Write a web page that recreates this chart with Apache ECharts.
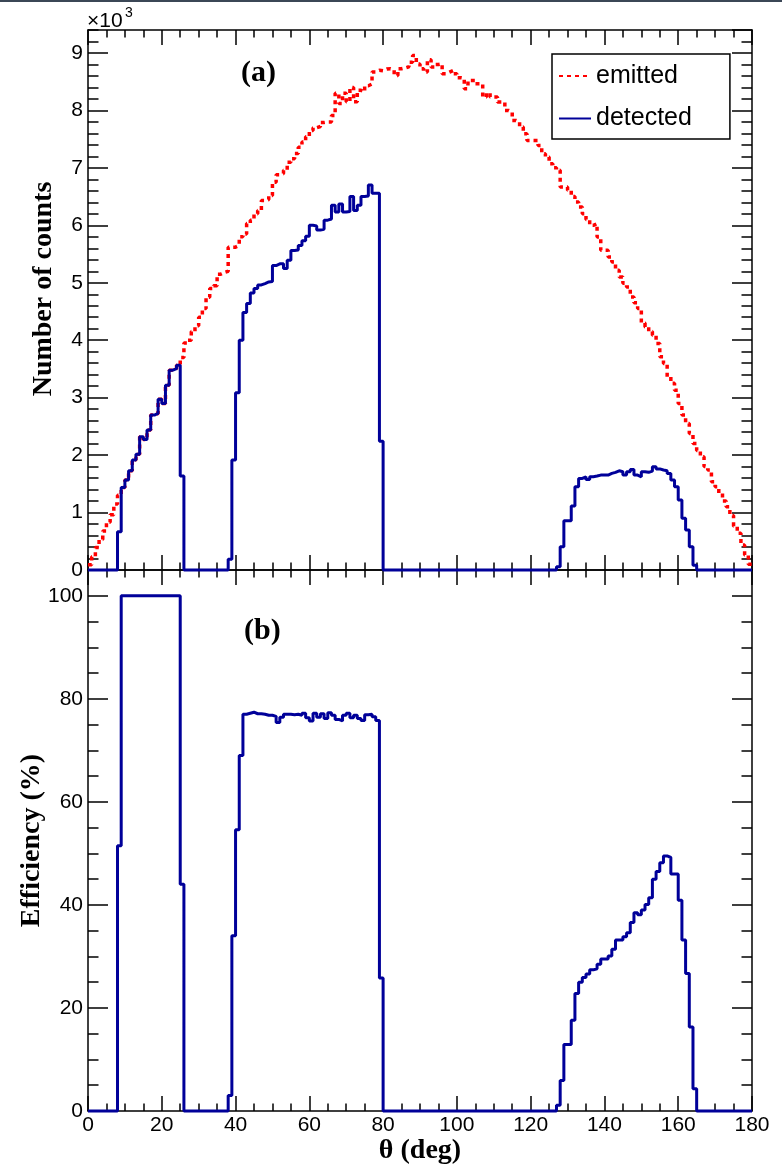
<!DOCTYPE html>
<html><head><meta charset="utf-8">
<script src="https://cdn.jsdelivr.net/npm/echarts@6/dist/echarts.min.js"></script>
<style>html,body{margin:0;padding:0;background:#fff}#c{width:782px;height:1169px}</style>
</head><body><div id="c"></div>
<script>
// 1-degree bins, 0..180 deg
const binWidth = 1;
const nBins = 180;

const emitted = [
90,230,390,530,680,830,960,1150,1300,1438,
1565,1727,1913,2017,2319,2272,2435,2696,2725,2974,
2899,3217,3478,3507,3565,3700,3950,4000,4150,4250,
4400,4550,4750,4900,4950,5150,5180,5200,5620,5620,
5650,5800,5850,6030,6090,6200,6260,6430,6450,6520,
6750,6880,6900,6960,7100,7160,7250,7360,7450,7540,
7650,7700,7720,7790,7800,7800,7910,8300,8120,8300,
8150,8400,8150,8350,8320,8430,8460,8670,8700,8690,
8720,8725,8700,8610,8725,8740,8760,8840,8957,8810,
8725,8667,8884,8754,8800,8812,8638,8667,8696,8640,
8570,8560,8377,8522,8522,8464,8464,8232,8300,8232,
8232,8145,8145,8000,7971,7826,7800,7710,7594,7478,
7478,7478,7391,7246,7188,7072,7000,6957,6667,6667,
6609,6500,6406,6319,6203,6100,6000,6029,5797,5565,
5565,5450,5362,5217,5101,4990,4927,4754,4650,4551,
4300,4232,4150,4087,3942,3710,3594,3362,3250,3130,
2899,2700,2551,2377,2203,2080,1971,1800,1739,1536,
1450,1333,1200,1101,950,760,638,435,260,100];

const detected = [
0,0,0,0,0,0,0,0,666,1438,
1565,1727,1913,2017,2319,2272,2435,2696,2725,2974,
2899,3217,3478,3507,3565,1635,0,0,0,0,
0,0,0,0,0,0,0,0,186,1913,
3084,4000,4481,4638,4823,4900,4962,4986,5014,5020,
5300,5330,5330,5250,5390,5560,5570,5650,5730,5810,
6000,5990,5920,5930,6090,6110,6350,6230,6370,6230,
6240,6500,6260,6350,6500,6510,6700,6560,6560,2240,
0,0,0,0,0,0,0,0,0,0,
0,0,0,0,0,0,0,0,0,0,
0,0,0,0,0,0,0,0,0,0,
0,0,0,0,0,0,0,0,0,0,
0,0,0,0,0,0,0,58,406,858,
858,1113,1449,1594,1623,1577,1623,1635,1652,1652,
1652,1681,1700,1727,1710,1652,1710,1751,1652,1623,
1710,1700,1720,1797,1760,1740,1727,1681,1565,1449,
1217,899,696,406,81,0,0,0,0,0,
0,0,0,0,0,0,0,0,0,0];

const efficiency = [
0,0,0,0,0,0,0,0,51.5,100,
100,100,100,100,100,100,100,100,100,100,
100,100,100,100,100,44,0,0,0,0,
0,0,0,0,0,0,0,0,3,34,
54.6,69,77.0,77.2,77.4,77.1,77.1,77.0,76.8,76.8,
76.6,75.4,76.4,77.0,77.0,76.9,77.0,76.8,77.2,76.3,
75.7,77.2,76.4,77.1,76.2,77.3,76.8,76.0,75.7,76.8,
77.2,76.3,76.8,76.2,75.8,76.9,77.0,76.5,75.8,25.8,
0,0,0,0,0,0,0,0,0,0,
0,0,0,0,0,0,0,0,0,0,
0,0,0,0,0,0,0,0,0,0,
0,0,0,0,0,0,0,0,0,0,
0,0,0,0,0,0,0,1.1,5.9,12.9,
12.9,17.6,22.8,25.0,25.9,26.6,27.4,27.6,28.5,29.5,
29.5,30.1,31.4,33.2,33.2,33.8,34.6,36.6,38.5,38.1,
39.0,40.1,41.4,45.0,46.5,48.2,49.5,49.2,46.0,46.0,
40.9,33.2,26.7,16.3,4.3,0,0,0,0,0,
0,0,0,0,0,0,0,0,0,0];

const seriesNames = ['emitted', 'detected'];
const xTitle = 'θ (deg)';
const yTitleTop = 'Number of counts';
const yTitleBottom = 'Efficiency (%)';

function histPoints(vals) {
  const pts = vals.map((v, i) => [i * binWidth, v]);
  pts.push([nBins * binWidth, vals[vals.length - 1]]);
  return pts;
}

const BLACK = '#000';
const BLUE = '#000099';
const RED = '#ff0000';
const sans = 'Liberation Sans, Arial, Helvetica, sans-serif';
const serif = 'Liberation Serif, Times New Roman, serif';
const tickLS = {color: BLACK, width: 1.5};
const LABEL_SIZE = 21;

function xAx(grid, pos, showLabels, extra) {
  return Object.assign({
    type: 'value', gridIndex: grid, position: pos, min: 0, max: 180, interval: 20,
    axisLine: {show: true, onZero: false, lineStyle: {color: BLACK, width: 1.5}},
    axisTick: {show: true, inside: true, length: 15, lineStyle: tickLS},
    minorTick: {show: true, splitNumber: 4, length: 7.5, lineStyle: tickLS},
    axisLabel: {show: showLabels, margin: 4, fontFamily: sans, fontSize: LABEL_SIZE, color: BLACK},
    splitLine: {show: false}, minorSplitLine: {show: false}
  }, extra || {});
}
function yAx(grid, pos, max, interval, major, labelFn, extra) {
  return Object.assign({
    type: 'value', gridIndex: grid, position: pos, min: 0, max: max, interval: interval,
    axisLine: {show: major, onZero: false, lineStyle: {color: BLACK, width: 1.5}},
    axisTick: {show: true, inside: true, length: major ? 20 : 10.5, lineStyle: tickLS},
    axisLabel: labelFn ? {show: true, margin: 5, fontFamily: sans, fontSize: LABEL_SIZE, color: BLACK,
      formatter: labelFn, showMaxLabel: false} : {show: false},
    splitLine: {show: false}
  }, extra || {});
}

const option = {
  animation: false,
  backgroundColor: '#fff',
  grid: [
    {left: 88, width: 664, top: 30, height: 540},
    {left: 88, width: 664, top: 570, height: 541}
  ],
  xAxis: [
    xAx(0, 'bottom', false),
    xAx(0, 'top', false),
    xAx(1, 'bottom', true, {
      name: xTitle, nameLocation: 'middle', nameGap: 26, nameMoveOverlap: false,
      nameTextStyle: {fontFamily: serif, fontWeight: 'bold', fontSize: 28, color: BLACK}
    }),
    xAx(1, 'top', false)
  ],
  yAxis: [
    yAx(0, 'left', 9400, 1000, true, v => (v % 1000 === 0 ? String(v / 1000) : ''), {
      name: yTitleTop, nameLocation: 'middle', nameGap: 30, nameMoveOverlap: false,
      nameTextStyle: {fontFamily: serif, fontWeight: 'bold', fontSize: 28, color: BLACK, padding: [0, 0, 0, 22]}
    }),
    yAx(0, 'left', 9400, 200, false, null),
    yAx(0, 'right', 9400, 1000, true, null),
    yAx(0, 'right', 9400, 200, false, null),
    yAx(1, 'left', 105, 20, true, v => (v % 20 === 0 ? String(v) : ''), {
      name: yTitleBottom, nameLocation: 'middle', nameGap: 42, nameMoveOverlap: false,
      nameTextStyle: {fontFamily: serif, fontWeight: 'bold', fontSize: 28, color: BLACK}
    }),
    yAx(1, 'left', 105, 5, false, null),
    yAx(1, 'right', 105, 20, true, null),
    yAx(1, 'right', 105, 5, false, null)
  ],
  legend: {
    data: seriesNames, orient: 'vertical', left: 552, top: 54,
    padding: [9.5, 38, 8, 6], itemGap: 17.5, itemWidth: 32, itemHeight: 14,
    borderColor: BLACK, borderWidth: 1.5, borderRadius: 0, backgroundColor: '#fff',
    selectedMode: false,
    itemStyle: {opacity: 0},
    textStyle: {fontFamily: sans, fontSize: 25, color: BLACK, lineHeight: 24}
  },
  graphic: [
    {type: 'rect', shape: {x: 0, y: 0, width: 782, height: 2}, style: {fill: '#3b4756'}, silent: true},
    {type: 'text', left: 87, top: 11, style: {text: '×10', font: '21px ' + sans, fill: BLACK}},
    {type: 'text', left: 125, top: 6, style: {text: '3', font: '14px ' + sans, fill: BLACK}},
    {type: 'text', left: 241, top: 58, style: {text: '(a)', font: 'bold 30px ' + serif, fill: BLACK}},
    {type: 'text', left: 244, top: 616, style: {text: '(b)', font: 'bold 30px ' + serif, fill: BLACK}}
  ],
  series: [
    {name: 'emitted', type: 'line', xAxisIndex: 0, yAxisIndex: 0, step: 'end', symbol: 'none',
      clip: false, z: 3, data: histPoints(emitted),
      lineStyle: {color: RED, width: 3.5, type: [4, 4]}, itemStyle: {color: RED}},
    {name: 'detected', type: 'line', xAxisIndex: 0, yAxisIndex: 0, step: 'end', symbol: 'none',
      clip: false, z: 4, data: histPoints(detected),
      lineStyle: {color: BLUE, width: 3}, itemStyle: {color: BLUE}},
    {name: 'efficiency', type: 'line', xAxisIndex: 2, yAxisIndex: 4, step: 'end', symbol: 'none',
      clip: false, z: 4, data: histPoints(efficiency),
      lineStyle: {color: BLUE, width: 3}, itemStyle: {color: BLUE}}
  ]
};

const chart = echarts.init(document.getElementById('c'), null, {renderer: 'canvas'});
chart.setOption(option);
</script>
</body></html>
